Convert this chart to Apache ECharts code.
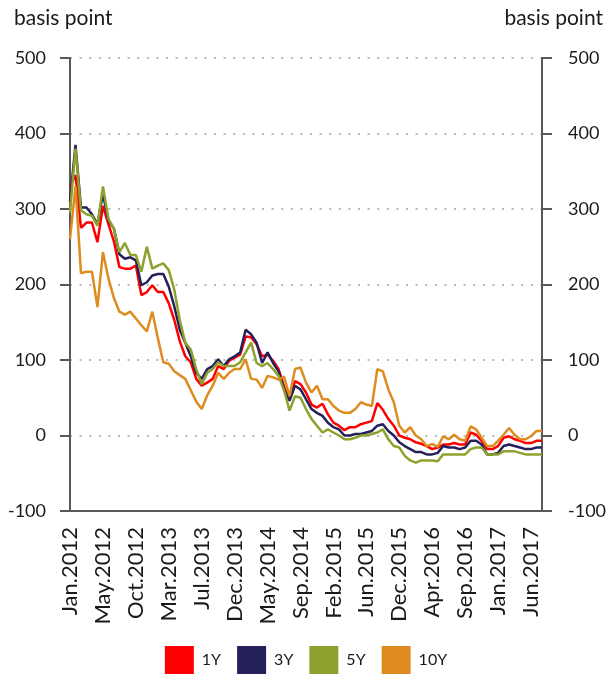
<!DOCTYPE html>
<html>
<head>
<meta charset="utf-8">
<script src="https://cdn.jsdelivr.net/npm/echarts@6/dist/echarts.min.js"></script>
<style>
html,body{margin:0;padding:0;background:#fff;}
#chart{width:612px;height:675px;}
</style>
</head>
<body>
<div id="chart"></div>
<script>
// Tick labels on the category axis (one every 6 points)
var tickLabels = ['Jan.2012','May.2012','Oct.2012','Mar.2013','Jul.2013','Dec.2013','May.2014','Sep.2014','Feb.2015','Jun.2015','Dec.2015','Apr.2016','Sep.2016','Jan.2017','Jun.2017'];
var pointsPerTick = 6;
var tailPoints = 2;

var y1 = [330,345,275,282,282,256,304,280,257,223,221,221,225,186,190,199,190,190,175,153,125,105,97,75,66,70,75,92,88,99,103,107,131,130,121,105,107,99,88,65,50,72,68,57,41,37,42,28,17,13,7,11,11,15,17,19,43,34,22,13,0,-3,-5,-9,-11,-14,-18,-16,-12,-12,-10,-12,-12,4,1,-7,-18,-18,-14,-3,-1,-5,-7,-10,-10,-7,-7];
var y3 = [310,385,302,302,293,280,320,285,274,240,234,236,232,199,203,212,214,214,197,171,140,123,105,83,75,88,92,101,92,101,105,110,140,134,123,96,110,96,85,61,46,66,61,48,35,30,26,17,11,8,0,0,2,2,4,6,13,15,6,0,-9,-14,-18,-22,-22,-25,-25,-23,-14,-16,-16,-18,-16,-7,-7,-12,-25,-25,-23,-14,-12,-14,-16,-18,-18,-16,-16];
var y5 = [295,380,298,293,291,278,330,287,274,243,255,239,239,217,250,221,225,228,219,193,153,123,114,88,68,83,88,97,92,92,92,97,110,123,96,92,96,88,79,60,33,52,50,35,22,13,4,8,4,0,-5,-5,-3,0,0,2,4,8,-5,-14,-16,-27,-33,-36,-33,-33,-33,-34,-25,-25,-25,-25,-25,-18,-16,-16,-25,-25,-25,-21,-21,-21,-23,-25,-25,-25,-25];
var y10 = [260,330,215,217,217,170,243,208,182,164,160,164,155,146,138,164,129,97,95,85,80,75,60,45,35,53,66,83,75,83,88,88,101,75,74,63,79,77,74,78,52,88,90,70,57,66,48,48,39,33,30,30,35,44,41,39,88,85,61,44,13,4,11,0,-5,-14,-11,-15,-1,-5,1,-5,-7,12,8,-3,-14,-14,-7,1,10,1,-5,-5,-1,6,6];

var seriesNames = ['1Y','3Y','5Y','10Y'];
var seriesColors = ['#FF0000','#24215A','#8CA22C','#DE8B1F'];
var seriesData = [y1, y3, y5, y10];

// Build category names: tick label at every 6th point
var categories = [];
for (var k = 0; k < tickLabels.length; k++) {
  var n = (k === tickLabels.length - 1) ? 1 + tailPoints : pointsPerTick;
  for (var j = 0; j < n; j++) {
    categories.push(j === 0 ? tickLabels[k] : tickLabels[k] + '~' + j);
  }
}

var FONT = 'Lato';
var chart = echarts.init(document.getElementById('chart'), null, {renderer: 'canvas'});
var axisColor = '#595959';

var option = {
  animation: false,
  backgroundColor: '#ffffff',
  textStyle: {fontFamily: FONT},
  color: seriesColors,
  grid: {left: 70, right: 70, top: 58, height: 453},
  graphic: [
    {type: 'text', left: 14, top: 8, style: {text: 'basis point', font: '21px ' + FONT, fill: '#1a1a1a'}},
    {type: 'text', right: 9, top: 8, style: {text: 'basis point', font: '21px ' + FONT, fill: '#1a1a1a'}}
  ],
  legend: {
    top: 646,
    left: 'center',
    icon: 'rect',
    itemWidth: 29,
    itemHeight: 28,
    itemGap: 16,
    padding: 0,
    data: seriesNames,
    textStyle: {fontSize: 16, color: '#1a1a1a', fontFamily: FONT, padding: [0, 0, 0, 3]}
  },
  xAxis: {
    type: 'category',
    data: categories,
    boundaryGap: false,
    axisLine: {show: true, onZero: false, lineStyle: {color: axisColor, width: 2}},
    axisTick: {show: false},
    splitLine: {show: false},
    axisLabel: {
      interval: pointsPerTick - 1,
      rotate: 90,
      margin: 16,
      fontSize: 22,
      color: '#1a1a1a',
      fontFamily: FONT,
      formatter: function (v) { return v.split('~')[0]; }
    }
  },
  yAxis: [
    {
      type: 'value', min: -100, max: 500, interval: 100, position: 'left',
      axisLine: {show: true, lineStyle: {color: axisColor, width: 2}},
      axisTick: {show: true, inside: false, length: 10, lineStyle: {color: axisColor, width: 2}},
      axisLabel: {margin: 24, fontSize: 18, color: '#1a1a1a', fontFamily: FONT},
      splitLine: {show: true, lineStyle: {color: '#b8b8b8', width: 2, type: [2, 7.6]}}
    },
    {
      type: 'value', min: -100, max: 500, interval: 100, position: 'right',
      axisLine: {show: true, lineStyle: {color: axisColor, width: 2}},
      axisTick: {show: true, inside: false, length: 10, lineStyle: {color: axisColor, width: 2}},
      axisLabel: {margin: 26, fontSize: 18, color: '#1a1a1a', fontFamily: FONT},
      splitLine: {show: false}
    }
  ],
  series: seriesNames.map(function (name, i) {
    return {
      name: name,
      type: 'line',
      data: seriesData[i],
      yAxisIndex: 0,
      showSymbol: false,
      symbol: 'none',
      lineStyle: {width: 2.5, color: seriesColors[i]},
      itemStyle: {color: seriesColors[i]}
    };
  })
};
chart.setOption(option);
</script>
</body>
</html>
